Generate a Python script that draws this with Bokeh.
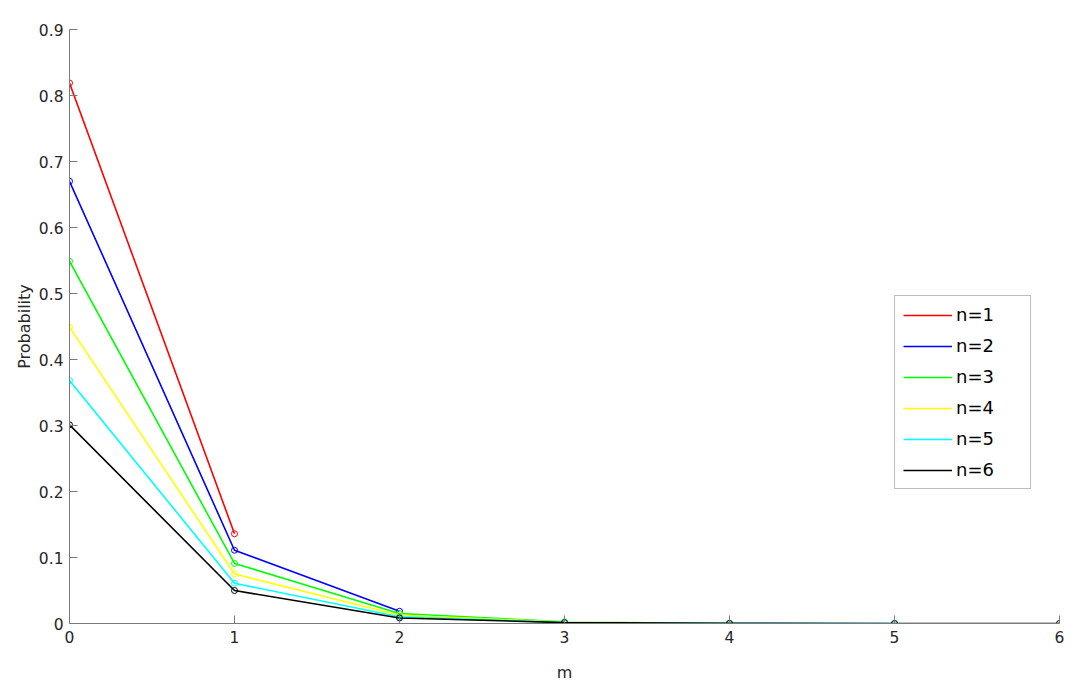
from bokeh.plotting import figure
from bokeh.models import Range1d, Legend, LegendItem, FixedTicker
from bokeh.embed import file_html
from bokeh.resources import INLINE

m_values = [0, 1, 2, 3, 4, 5, 6]
series_names = ["n=1", "n=2", "n=3", "n=4", "n=5", "n=6"]
series_colors = ["#ff0000", "#0000ff", "#00ff00", "#ffff00", "#00ffff", "#000000"]
p_n1 = [0.819, 0.136]
p_n2 = [0.670, 0.111, 0.0185]
p_n3 = [0.549, 0.091, 0.0152, 0.0025]
p_n4 = [0.449, 0.075, 0.0125, 0.0021, 0.0003]
p_n5 = [0.368, 0.061, 0.0102, 0.0017, 0.0003, 0.00005]
p_n6 = [0.301, 0.050, 0.0084, 0.0014, 0.0002, 0.00004, 0.00001]
series_values = [p_n1, p_n2, p_n3, p_n4, p_n5, p_n6]
x_ticks = [0, 1, 2, 3, 4, 5, 6]
x_tick_labels = ["0", "1", "2", "3", "4", "5", "6"]
y_ticks = [0, 0.1, 0.2, 0.3, 0.4, 0.5, 0.6, 0.7, 0.8, 0.9]
y_tick_labels = ["0", "0.1", "0.2", "0.3", "0.4", "0.5", "0.6", "0.7", "0.8", "0.9"]

FONT = "DejaVu Sans"
AX = "#7a7a7a"
TXT = "#262626"

p = figure(width=1072, height=688, output_backend="svg", toolbar_location=None,
           x_range=Range1d(0, 6), y_range=Range1d(0, 0.9),
           min_border_left=69, min_border_right=13, min_border_top=29, min_border_bottom=65)
p.outline_line_color = None
p.xgrid.visible = False
p.ygrid.visible = False
p.background_fill_color = "white"
p.border_fill_color = "white"

items = []
for name, color, vals in zip(series_names, series_colors, series_values):
    xs = m_values[:len(vals)]
    r = p.line(xs, vals, line_color=color, line_width=1.6)
    p.scatter(xs, vals, marker="circle", size=6, fill_color=None, line_color=color, line_width=1)
    items.append(LegendItem(label=name, renderers=[r]))

for ax, ticks, labels in ((p.xaxis[0], x_ticks, x_tick_labels), (p.yaxis[0], y_ticks, y_tick_labels)):
    ax.ticker = FixedTicker(ticks=ticks)
    ax.major_label_overrides = {t: l for t, l in zip(ticks, labels)}
    ax.minor_tick_line_color = None
    ax.major_tick_in = 8
    ax.major_tick_out = 0
    ax.axis_line_color = AX
    ax.major_tick_line_color = AX
    ax.major_label_text_font = FONT
    ax.major_label_text_font_size = "15.5px"
    ax.major_label_text_color = TXT
    ax.axis_label_text_font = FONT
    ax.axis_label_text_font_size = "16px"
    ax.axis_label_text_color = TXT
    ax.axis_label_text_font_style = "normal"

p.xaxis.axis_label = "m"
p.yaxis.axis_label = "Probability"
p.xaxis.major_label_standoff = 7
p.yaxis.major_label_standoff = 6
p.xaxis.axis_label_standoff = 17
p.yaxis.axis_label_standoff = 2

legend = Legend(items=items, location=(825, 134), label_text_font=FONT,
                label_text_font_size="18px", label_text_color="#000000",
                glyph_width=49, glyph_height=20, label_height=20, label_width=66,
                spacing=10, padding=8, margin=0,
                border_line_color="#7a7a7a", border_line_width=1,
                background_fill_alpha=1.0, label_standoff=4)
p.add_layout(legend)

open("out.html", "w").write(file_html(p, INLINE))
